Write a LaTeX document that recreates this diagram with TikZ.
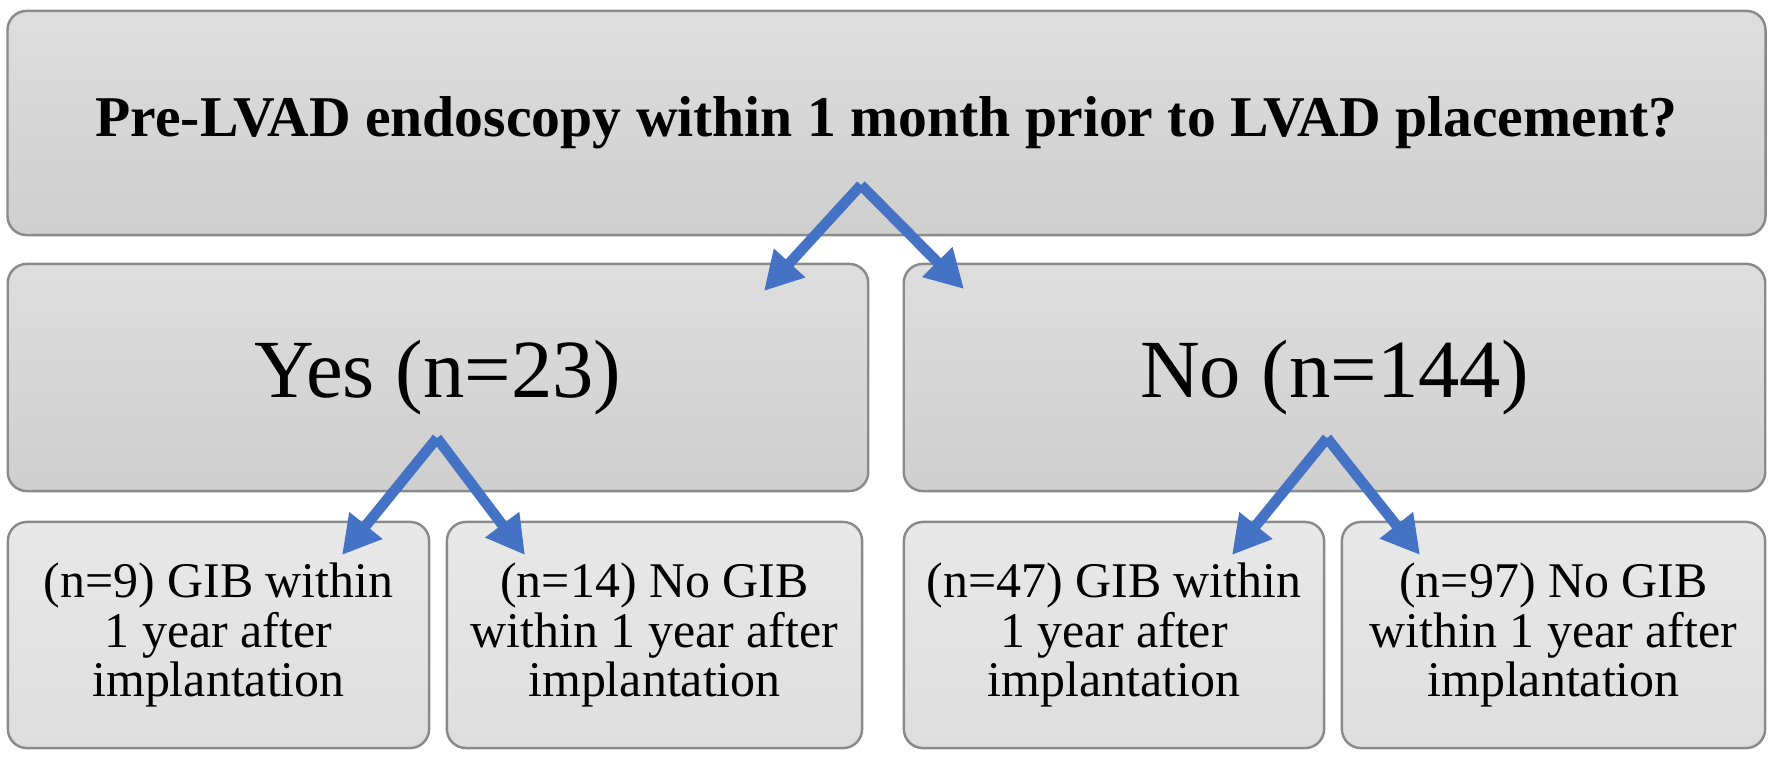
\documentclass[tikz,border=0pt]{standalone}
\usepackage{fontspec}
\setmainfont{Liberation Serif}
\usetikzlibrary{arrows.meta}

\definecolor{forkblue}{HTML}{4472C4}
\definecolor{boxline}{HTML}{8A8A8A}

\tikzset{
        box/.style={draw=boxline, line width=0.7pt, rounded corners=0.19cm,
                top color=black!13, bottom color=black!19, inner sep=0pt,
                minimum height=2.27cm, align=center},
        leafbox/.style={box, top color=black!9, bottom color=black!13,
                minimum height=2.26cm, font=\fontsize{14.2}{14}\selectfont},
        fork/.style={draw=forkblue, line width=3pt,
                -{Triangle[length=0.38cm, width=0.4cm]}}
}

\begin{document}
\begin{tikzpicture}[x=0.01cm, y=-0.01cm]

        \useasboundingbox (0,0) rectangle (1772,761);

        \node[box, minimum width=17.57cm, minimum height=2.24cm,
                font=\fontsize{16.4}{16}\selectfont\bfseries] (q) at (886.5,123)
                {Pre-LVAD endoscopy within 1 month prior to LVAD placement?};

        \node[box, minimum width=8.6cm, font=\fontsize{23.5}{24}\selectfont] (yes) at (438,377.5) {Yes (n=23)};
        \node[box, minimum width=8.61cm, font=\fontsize{23.5}{24}\selectfont] (no) at (1334.5,377.5) {No (n=144)};

        \foreach \nm/\cx/\w/\txt in {
                b1/218.5/4.21/{(n=9) GIB within\\1 year after\\implantation},
                b2/654.5/4.15/{(n=14) No GIB\\within 1 year after\\implantation},
                b3/1114/4.2/{(n=47) GIB within\\1 year after\\implantation},
                b4/1553.5/4.23/{(n=97) No GIB\\within 1 year after\\implantation}}
        {
                \node[leafbox, minimum width=\w cm] (\nm) at (\cx,635) {\txt};
        }

        \coordinate (qfork) at (861,185);
        \coordinate (yestip) at (764,291);
        \coordinate (notip) at (964,289);
        \coordinate (yfork) at (437,438);
        \coordinate (b1tip) at (342,555);
        \coordinate (b2tip) at (525,555);
        \coordinate (nfork) at (1327,438);
        \coordinate (b3tip) at (1232,555);
        \coordinate (b4tip) at (1420,555);

        \draw[fork] (qfork) -- (yestip);
        \draw[fork] (qfork) -- (notip);
        \draw[fork] (yfork) -- (b1tip);
        \draw[fork] (yfork) -- (b2tip);
        \draw[fork] (nfork) -- (b3tip);
        \draw[fork] (nfork) -- (b4tip);

\end{tikzpicture}
\end{document}
